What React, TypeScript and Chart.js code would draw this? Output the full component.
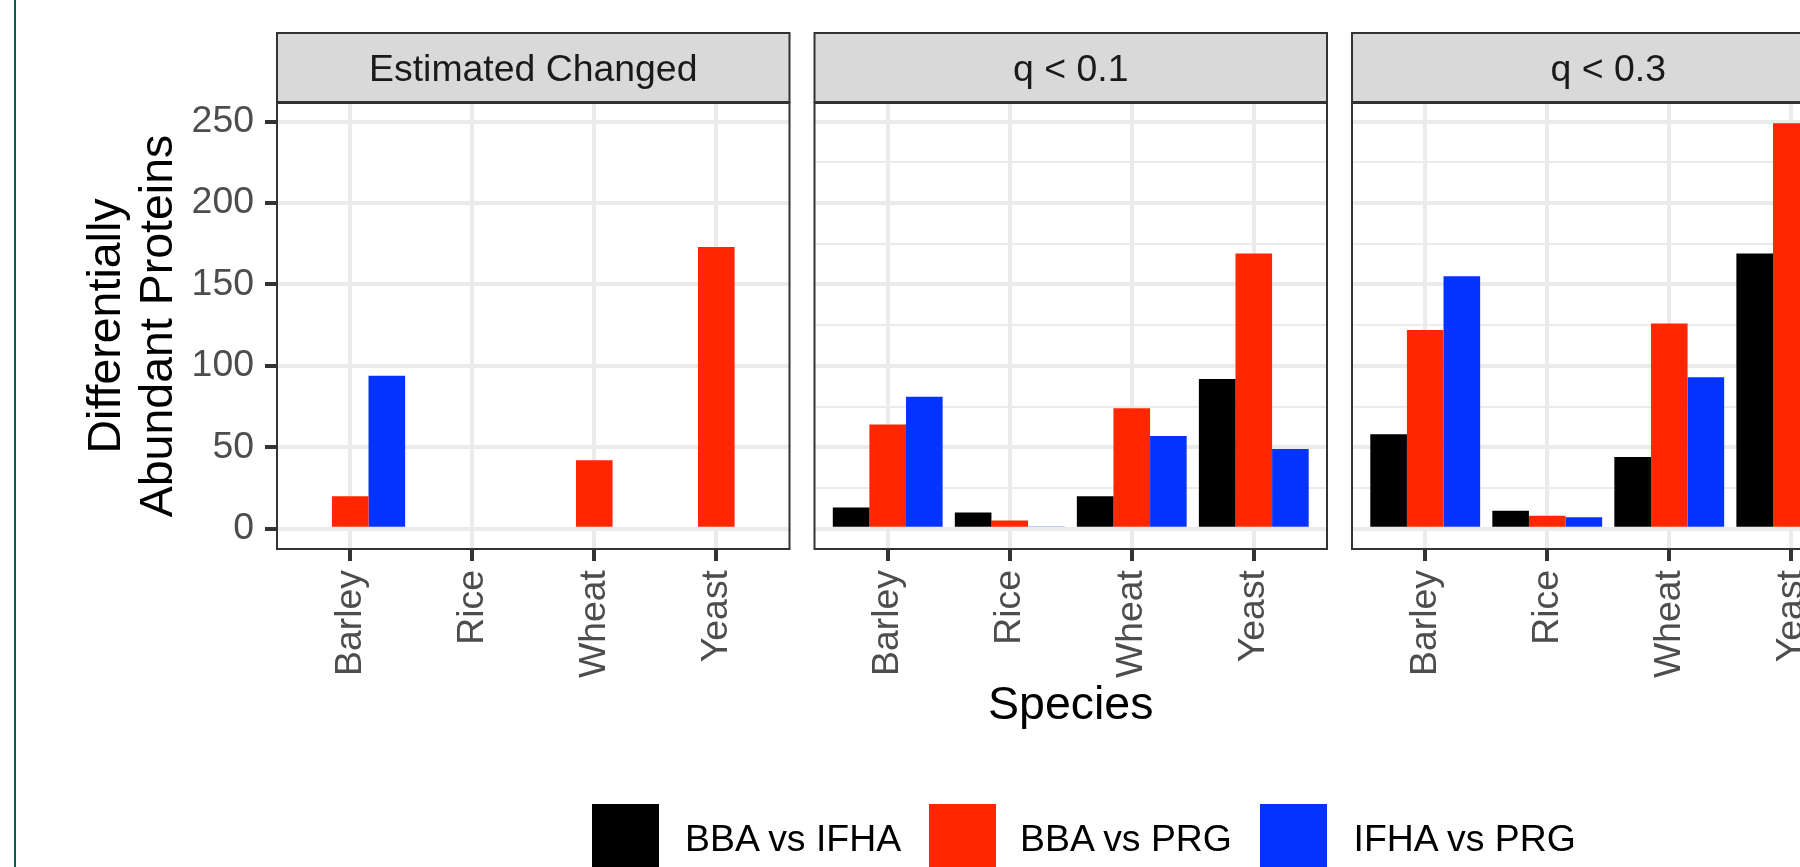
import React, { useEffect, useRef } from 'react';
import { Chart, registerables } from 'chart.js';

Chart.register(...registerables);

// ---------- data ----------
const categories = ['Barley', 'Rice', 'Wheat', 'Yeast'];
const seriesNames = ['BBA vs IFHA', 'BBA vs PRG', 'IFHA vs PRG'];
const seriesColors = ['#000000', '#ff2600', '#0433ff'];
const facetLabels = ['Estimated Changed', 'q < 0.1', 'q < 0.3'];

const estBbaIfha = [0, 0, 0, 0];
const estBbaPrg = [20, 0, 42, 173];
const estIfhaPrg = [94, 0, 0, 0];

const q01BbaIfha = [13, 10, 20, 92];
const q01BbaPrg = [64, 5, 74, 169];
const q01IfhaPrg = [81, 1, 57, 49];

const q03BbaIfha = [58, 11, 44, 169];
const q03BbaPrg = [122, 8, 126, 249];
const q03IfhaPrg = [155, 7, 93, 80];

const yTickValues = [0, 25, 50, 75, 100, 125, 150, 175, 200, 225, 250];
const yLabelValues = [0, 50, 100, 150, 200, 250];
const yTitle = ['Differentially', 'Abundant Proteins'];
const xTitle = 'Species';

const panelSeries = [
  [estBbaIfha, estBbaPrg, estIfhaPrg],
  [q01BbaIfha, q01BbaPrg, q01IfhaPrg],
  [q03BbaIfha, q03BbaPrg, q03IfhaPrg],
];

// ---------- layout ----------
const FONT = "'Liberation Sans', Arial, Helvetica, sans-serif";
const SMALL = 37.4;
const BIG = 46.5;
const CANVAS_W = 1900;
const CANVAS_H = 867;
const PANEL_TOP = 103;
const PANEL_BOTTOM = 549;
const PANEL_LEFTS = [277, 814.5, 1352];
const PANEL_W = 512.5;
const STRIP_TOP = 33;
const STRIP_BOTTOM = 102;
const Y_MIN = -12.45;
const Y_MAX = 261.45;

const facetPlugin = {
  id: 'facet',
  afterDraw(chart: any, _args: any, opts: any) {
    const { ctx, chartArea: a } = chart;
    ctx.save();
    ctx.strokeStyle = '#333333';
    ctx.lineWidth = 2;
    ctx.strokeRect(a.left, a.top, a.right - a.left, a.bottom - a.top);
    ctx.fillStyle = '#d9d9d9';
    ctx.fillRect(a.left, STRIP_TOP, a.right - a.left, STRIP_BOTTOM - STRIP_TOP);
    ctx.strokeRect(a.left, STRIP_TOP, a.right - a.left, STRIP_BOTTOM - STRIP_TOP);
    ctx.fillStyle = '#1a1a1a';
    ctx.font = `${SMALL}px ${FONT}`;
    ctx.textAlign = 'center';
    ctx.textBaseline = 'alphabetic';
    ctx.fillText(opts.label, (a.left + a.right) / 2, 81);
    ctx.restore();
  },
};

function makeConfig(idx: number): any {
  const showY = idx === 0;
  const showXTitle = idx === 1;
  const left = PANEL_LEFTS[idx];
  const right = left + PANEL_W;
  const isMajor = (v: number) => yLabelValues.includes(v);
  return {
    type: 'bar',
    data: {
      datasets: panelSeries[idx].map((vals, s) => ({
        label: seriesNames[s],
        data: vals.map((v, i) => ({ x: i + 1, y: v })),
        backgroundColor: seriesColors[s],
        borderWidth: 0,
        categoryPercentage: 0.9,
        barPercentage: 1.0,
      })),
    },
    options: {
      responsive: false,
      animation: false,
      layout: {
        padding: { left: showY ? 0 : left, right: CANVAS_W - right, top: PANEL_TOP, bottom: 0 },
      },
      plugins: {
        legend: { display: false },
        tooltip: { enabled: false },
        facet: { label: facetLabels[idx] },
      },
      scales: {
        x: {
          type: 'linear',
          min: 0.4,
          max: 4.6,
          offset: false,
          afterBuildTicks: (s: any) => {
            s.ticks = categories.map((_, i) => ({ value: i + 1 }));
          },
          afterFit: (s: any) => {
            s.height = CANVAS_H - PANEL_BOTTOM;
          },
          grid: {
            offset: false,
            color: '#ebebeb',
            lineWidth: 4,
            drawTicks: true,
            tickLength: 12,
            tickWidth: 4,
            tickColor: '#333333',
          },
          border: { display: false },
          ticks: {
            autoSkip: false,
            minRotation: 90,
            maxRotation: 90,
            padding: 9,
            color: '#4d4d4d',
            font: { family: FONT, size: SMALL },
            callback: (v: number) => categories[Math.round(v) - 1] ?? '',
          },
          title: {
            display: showXTitle,
            text: xTitle,
            color: '#000000',
            font: { family: FONT, size: BIG, lineHeight: 1.2 },
            padding: { top: 0, bottom: 133 },
          },
        },
        y: {
          type: 'linear',
          min: Y_MIN,
          max: Y_MAX,
          afterBuildTicks: (s: any) => {
            s.ticks = yTickValues.map((v) => ({ value: v }));
          },
          afterFit: (s: any) => {
            s.width = showY ? left : 0;
          },
          grid: {
            color: '#ebebeb',
            lineWidth: (c: any) => (c.tick && isMajor(c.tick.value) ? 4 : 2),
            drawTicks: showY,
            tickLength: 12,
            tickWidth: 4,
            tickColor: (c: any) => (c.tick && isMajor(c.tick.value) ? '#333333' : 'rgba(0,0,0,0)'),
          },
          border: { display: false },
          ticks: {
            display: showY,
            padding: 11,
            color: '#4d4d4d',
            font: { family: FONT, size: SMALL },
            callback: (v: number) => (isMajor(v) ? String(v) : ''),
          },
          title: {
            display: showY,
            text: yTitle,
            color: '#000000',
            font: { family: FONT, size: BIG, lineHeight: 1.1 },
            padding: { top: 82, bottom: 0 },
          },
        },
      },
    },
    plugins: [facetPlugin],
  };
}

export default function App() {
  const refs = useRef<(HTMLCanvasElement | null)[]>([]);

  useEffect(() => {
    const charts = [0, 1, 2].map((i) => new Chart(refs.current[i] as HTMLCanvasElement, makeConfig(i)));
    return () => charts.forEach((c) => c.destroy());
  }, []);

  const keyLefts = [591.5, 929, 1260];
  const textLefts = [685, 1020, 1353.5];

  return (
    <div
      style={{
        position: 'fixed',
        left: 0,
        top: 0,
        width: 1800,
        height: 867,
        overflow: 'hidden',
        background: '#ffffff',
      }}
    >
      <div style={{ position: 'absolute', left: 14, top: 0, width: 2, height: 867, background: '#0b5c4e' }} />
      {[0, 1, 2].map((i) => (
        <canvas
          key={i}
          ref={(el) => {
            refs.current[i] = el;
          }}
          width={CANVAS_W}
          height={CANVAS_H}
          style={{ position: 'absolute', left: 0, top: 0, width: CANVAS_W, height: CANVAS_H }}
        />
      ))}
      {seriesNames.map((name, i) => (
        <React.Fragment key={name}>
          <div
            style={{
              position: 'absolute',
              left: keyLefts[i],
              top: 804,
              width: 67,
              height: 67,
              background: seriesColors[i],
            }}
          />
          <div
            style={{
              position: 'absolute',
              left: textLefts[i],
              top: 820,
              fontFamily: FONT,
              fontSize: SMALL,
              lineHeight: `${SMALL}px`,
              color: '#000000',
              whiteSpace: 'nowrap',
            }}
          >
            {name}
          </div>
        </React.Fragment>
      ))}
    </div>
  );
}
